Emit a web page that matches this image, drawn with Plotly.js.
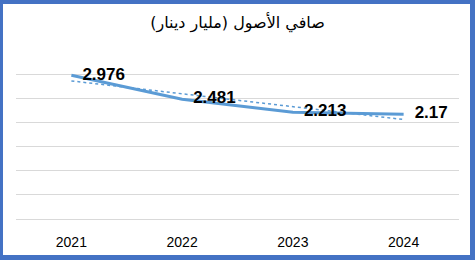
<!DOCTYPE html>
<html>
<head>
<meta charset="utf-8">
<script src="https://cdn.plot.ly/plotly-3.0.1.min.js"></script>
<style>
html,body{margin:0;padding:0;background:#fff;}
#wrap{position:relative;width:475px;height:260px;}
#chart{width:475px;height:260px;}
#frame{position:absolute;left:0;top:0;width:475px;height:260px;box-sizing:border-box;border-style:solid;border-color:#4472C4;border-width:4px 5px 5px 3px;pointer-events:none;}
</style>
</head>
<body>
<div id="wrap"><div id="chart"></div><div id="frame"></div></div>
<script>
const years = ['2021', '2022', '2023', '2024'];
const netAssets = [2.976, 2.481, 2.213, 2.17];
const valueLabels = ['2.976', '2.481', '2.213', '2.17'];
const trendValues = [2.86, 2.59, 2.33, 2.06];
const chartTitle = 'صافي الأصول (مليار دينار)';

const traces = [
  {
    x: years, y: trendValues, type: 'scatter', mode: 'lines',
    line: {color: '#5B9BD5', width: 1.5, dash: 'dot'},
    hoverinfo: 'skip', showlegend: false
  },
  {
    x: years, y: netAssets, type: 'scatter', mode: 'lines+markers+text',
    text: valueLabels, textposition: 'middle right',
    textfont: {family: 'Liberation Sans, Arial, sans-serif', size: 17, color: '#000', weight: 'bold'},
    marker: {size: 16, color: 'rgba(0,0,0,0)'},
    line: {color: '#5B9BD5', width: 3},
    showlegend: false, cliponaxis: false
  }
];

const layout = {
  width: 475, height: 260,
  margin: {l: 16, r: 16, t: 50, b: 41},
  paper_bgcolor: '#fff', plot_bgcolor: '#fff',
  title: {text: chartTitle, x: 0.5, xanchor: 'center', y: 0.915, yanchor: 'middle',
    font: {family: 'DejaVu Sans, sans-serif', size: 16, color: '#000'}},
  xaxis: {type: 'category', range: [-0.5, 3.5], showgrid: false, zeroline: false, showline: false,
    ticks: 'outside', ticklen: 10, tickcolor: 'rgba(0,0,0,0)',
    tickfont: {family: 'Liberation Sans, Arial, sans-serif', size: 14, color: '#000'}},
  yaxis: {range: [0, 3.5], dtick: 0.5, showticklabels: false, showgrid: true, gridcolor: '#D9D9D9',
    gridwidth: 1, zeroline: true, zerolinecolor: '#D9D9D9', zerolinewidth: 1, showline: false, ticks: ''}
};

Plotly.newPlot('chart', traces, layout, {displayModeBar: false, staticPlot: true});
</script>
</body>
</html>
